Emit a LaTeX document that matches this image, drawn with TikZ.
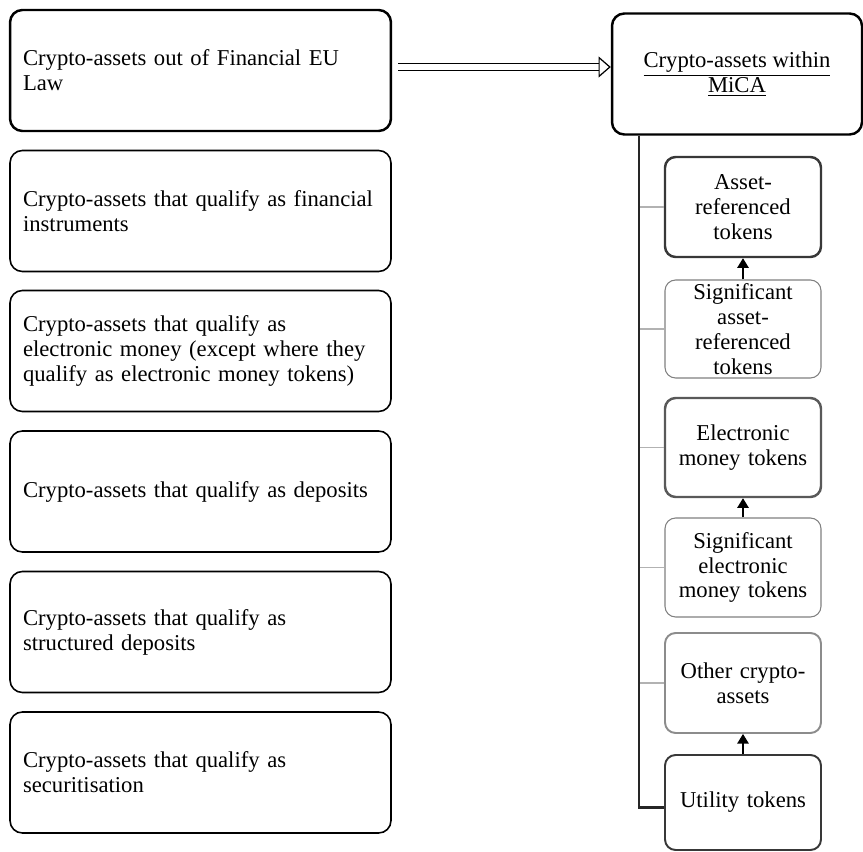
\documentclass[tikz,border=0pt]{standalone}
\usepackage{fontspec}
\setmainfont{Liberation Serif}
\usetikzlibrary{positioning,arrows.meta}
\definecolor{artgray}{gray}{0.22}
\definecolor{emtgray}{gray}{0.35}
\definecolor{siggray}{gray}{0.50}
\definecolor{othgray}{gray}{0.55}
\definecolor{branchgray}{gray}{0.70}

\begin{document}
\begin{tikzpicture}[x=0.02cm, y=-0.02cm,
  txt/.style = {font=\fontsize{12.9}{14.2}\selectfont},
  lawbox/.style = {txt, draw, rounded corners=7pt, line width=0.9pt, minimum width=7.62cm, minimum height=2.42cm, text width=7.1cm, inner xsep=0.26cm, align=left},
  token/.style = {txt, draw, rounded corners=6pt, minimum width=3.12cm, minimum height=2cm, text width=3cm, inner xsep=0.06cm, inner ysep=0pt, align=center},
  up/.style = {line width=0.8pt, -{Triangle[length=5.5pt,width=6.5pt]}},
  branch/.style = {branchgray, line width=0.6pt},
  spine/.style = {line width=1.2pt, black!85}]
\useasboundingbox (0,0) rectangle (863,852);

% left column
\node[lawbox, line width=1.4pt] (out) at (200.5,70.5) {Crypto-assets out of Financial EU\\Law};
\node[lawbox] (fin) at (200.5,211) {Crypto-assets that qualify as financial\\instruments};
\node[lawbox] (emoney) at (200.5,351) {Crypto-assets that qualify as\\electronic money (except where they\\qualify as electronic money tokens)};
\node[lawbox] (dep) at (200.5,491.5) {Crypto-assets that qualify as deposits};
\node[lawbox] (sdep) at (200.5,632) {Crypto-assets that qualify as\\structured deposits};
\node[lawbox] (sec) at (200.5,772.5) {Crypto-assets that qualify as\\securitisation};

% right column
\node[txt, draw, rounded corners=7pt, line width=1.4pt, minimum width=5cm, minimum height=2.42cm, align=center] (mica) at (737,74) {\underline{Crypto-assets within}\\\underline{MiCA}};

\node[token, artgray, text=black, line width=1.4pt] (art) at (743,207) {Asset-\\referenced\\tokens};
\node[token, siggray, text=black, line width=0.6pt, minimum height=1.96cm] (sart) at (743,329) {Significant\\asset-\\referenced\\tokens};
\node[token, emtgray, text=black, line width=1.4pt, minimum height=1.98cm] (emt) at (743,447.5) {Electronic\\money tokens};
\node[token, siggray, text=black, line width=0.6pt, minimum height=1.98cm] (semt) at (743,567.5) {Significant\\electronic\\money tokens};
\node[token, othgray, text=black, line width=1.1pt] (other) at (743,683) {Other crypto-\\assets};
\node[token, artgray, text=black, line width=1.1pt, minimum height=1.9cm] (util) at (743,802.5) {Utility tokens};

% out of EU law -> MiCA
\draw[double, double distance=3.4pt, line width=0.7pt, -{Triangle[open,length=7pt,width=12pt]}]
  ([xshift=0.12cm,yshift=0.07cm]out.east) -- ([yshift=0.07cm]out.east -| mica.west);

% tree
\coordinate (spine) at ([xshift=0.56cm]mica.south west);
\foreach \n in {art,sart,emt,semt,other}{\draw[branch] (spine |- \n.west) -- (\n.west);}
\draw[spine] (spine) |- ([yshift=-0.1cm]util.west);

\draw[up] (sart) -- (art);
\draw[up] (semt) -- (emt);
\draw[up] (util) -- (other);
\end{tikzpicture}
\end{document}
